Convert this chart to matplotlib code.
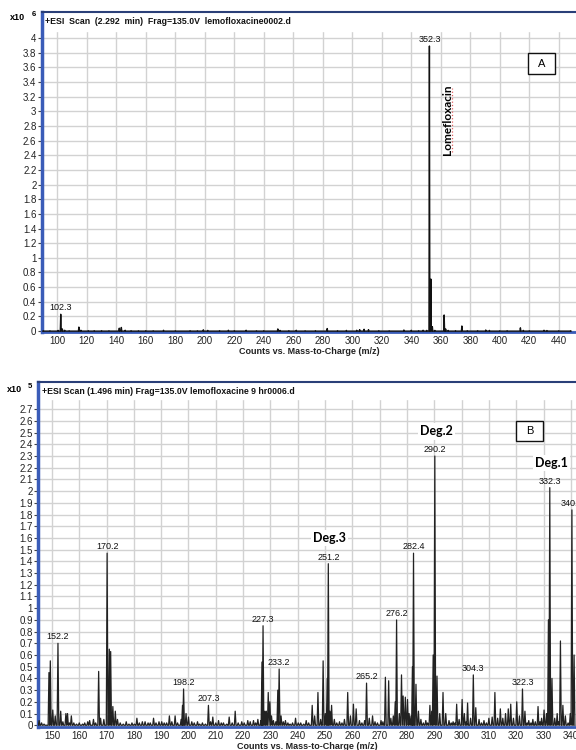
import matplotlib
matplotlib.use('Agg')
import matplotlib.pyplot as plt
from matplotlib.patches import Rectangle
import numpy as np

plt.rcParams['font.family'] = ['Liberation Sans', 'DejaVu Sans']

# Panel A: lomefloxacin standard, counts x10^6
a_mz = [90.5, 95.0, 100.5, 102.3, 103.4, 105.0, 108.0, 114.6, 116.0, 121.0, 125.0, 130.0,
        135.0, 142.0, 143.4, 146.0, 150.0, 155.0, 160.0, 165.0, 172.0, 180.0, 190.0, 195.0,
        199.0, 202.0, 210.0, 216.0, 220.0, 228.0, 235.0, 240.0, 249.5, 251.0, 257.0, 262.0,
        268.0, 275.0, 283.0, 290.0, 296.0, 303.0, 305.0, 308.0, 311.0, 318.0, 325.0, 335.0,
        340.0, 345.0, 348.0, 350.5, 352.3, 353.3, 354.3, 356.0, 362.3, 363.3, 365.0, 370.0,
        374.3, 378.0, 385.0, 390.5, 393.0, 400.0, 405.0, 414.0, 416.0, 420.0, 430.0, 432.0,
        440.0, 448.0]
a_int = [0.005, 0.005, 0.01, 0.23, 0.03, 0.012, 0.005, 0.055, 0.012, 0.006, 0.006, 0.006,
         0.005, 0.04, 0.05, 0.012, 0.006, 0.005, 0.006, 0.005, 0.012, 0.005, 0.006, 0.005,
         0.018, 0.01, 0.006, 0.012, 0.006, 0.012, 0.005, 0.006, 0.03, 0.01, 0.006, 0.012,
         0.005, 0.006, 0.035, 0.006, 0.01, 0.012, 0.02, 0.025, 0.02, 0.006, 0.005, 0.015,
         0.012, 0.006, 0.012, 0.01, 3.89, 0.71, 0.06, 0.01, 0.22, 0.03, 0.01, 0.006,
         0.07, 0.006, 0.006, 0.015, 0.01, 0.005, 0.006, 0.045, 0.01, 0.005, 0.012, 0.008,
         0.005, 0.005]
a_labels = ['102.3', '352.3']

# Panel B: after 9 hr, counts x10^5
b_mz = [145.3, 146.2, 147.1, 148.9, 149.4, 150.3, 151.2, 152.2, 153.2, 154.0, 155.1, 155.7,
        156.4, 157.1, 158.0, 159.0, 160.0, 161.2, 162.0, 163.1, 163.8, 165.2, 166.0, 167.1,
        167.8, 169.0, 170.2, 171.0, 171.5, 172.3, 173.2, 174.0, 175.0, 176.1, 177.2, 178.2,
        179.3, 180.2, 181.1, 182.0, 183.1, 184.1, 185.2, 186.0, 187.2, 188.1, 189.2, 190.2,
        191.1, 192.0, 193.0, 193.9, 195.1, 196.0, 197.3, 197.8, 198.2, 199.1, 200.0, 201.2,
        202.1, 203.3, 204.1, 205.1, 206.2, 207.3, 208.1, 208.9, 210.0, 211.0, 212.0, 212.8,
        214.0, 214.9, 216.0, 217.1, 218.2, 219.5, 220.4, 221.7, 222.6, 223.8, 224.6, 225.4,
        226.5, 226.9, 227.3, 228.0, 228.5, 229.2, 229.8, 230.4, 231.1, 232.0, 232.7, 233.2,
        233.9, 234.7, 235.5, 236.4, 237.2, 238.1, 239.2, 240.2, 241.1, 242.2, 243.1, 244.0,
        245.3, 246.2, 247.4, 248.4, 249.3, 250.1, 250.8, 251.2, 251.8, 252.4, 253.4, 254.3,
        255.3, 256.2, 257.1, 258.3, 259.3, 260.4, 261.4, 262.6, 263.5, 264.5, 265.2, 266.2,
        267.4, 268.3, 269.2, 270.5, 271.2, 272.1, 273.3, 274.1, 275.0, 275.7, 276.2, 277.2,
        278.0, 278.6, 279.4, 280.2, 280.8, 281.5, 282.0, 282.4, 283.3, 284.2, 285.1, 286.0,
        286.9, 287.6, 288.4, 289.1, 289.6, 290.2, 291.0, 292.0, 293.2, 294.2, 295.4, 296.2,
        296.9, 297.6, 298.2, 299.1, 300.2, 301.0, 301.7, 302.2, 303.3, 304.3, 305.2, 306.4,
        307.3, 308.2, 309.1, 310.0, 311.2, 312.2, 313.2, 314.2, 315.1, 316.1, 317.1, 318.0,
        319.0, 320.2, 321.2, 322.3, 323.2, 324.0, 324.6, 325.4, 326.1, 327.0, 328.0, 328.7,
        329.3, 330.2, 331.1, 331.8, 332.3, 333.1, 334.1, 335.0, 335.6, 336.2, 337.1, 338.0,
        339.0, 339.8, 340.4, 341.2]
b_int = [0.04, 0.02, 0.01, 0.45, 0.55, 0.13, 0.08, 0.70, 0.12, 0.03, 0.10, 0.10,
         0.02, 0.08, 0.02, 0.01, 0.02, 0.01, 0.02, 0.03, 0.04, 0.05, 0.02, 0.46,
         0.06, 0.05, 1.47, 0.65, 0.63, 0.16, 0.12, 0.05, 0.02, 0.01, 0.03, 0.01,
         0.02, 0.01, 0.06, 0.02, 0.03, 0.03, 0.02, 0.02, 0.06, 0.02, 0.03, 0.03,
         0.02, 0.02, 0.08, 0.03, 0.08, 0.02, 0.05, 0.17, 0.31, 0.10, 0.07, 0.03,
         0.02, 0.03, 0.01, 0.02, 0.01, 0.17, 0.03, 0.07, 0.02, 0.04, 0.02, 0.02,
         0.01, 0.07, 0.02, 0.12, 0.02, 0.03, 0.02, 0.04, 0.03, 0.04, 0.02, 0.05,
         0.04, 0.54, 0.85, 0.12, 0.12, 0.28, 0.20, 0.08, 0.04, 0.03, 0.30, 0.48,
         0.08, 0.03, 0.04, 0.02, 0.01, 0.02, 0.06, 0.02, 0.02, 0.01, 0.04, 0.02,
         0.17, 0.08, 0.28, 0.05, 0.55, 0.10, 0.40, 1.38, 0.12, 0.17, 0.05, 0.02,
         0.03, 0.02, 0.05, 0.28, 0.08, 0.18, 0.14, 0.04, 0.02, 0.04, 0.36, 0.06,
         0.08, 0.03, 0.02, 0.04, 0.03, 0.41, 0.38, 0.06, 0.08, 0.20, 0.90, 0.10,
         0.43, 0.25, 0.24, 0.22, 0.10, 0.08, 0.50, 1.47, 0.35, 0.12, 0.05, 0.02,
         0.04, 0.02, 0.17, 0.12, 0.60, 2.30, 0.42, 0.10, 0.28, 0.10, 0.04, 0.02,
         0.03, 0.02, 0.18, 0.05, 0.22, 0.10, 0.03, 0.19, 0.06, 0.43, 0.15, 0.05,
         0.02, 0.04, 0.02, 0.06, 0.07, 0.28, 0.06, 0.14, 0.06, 0.10, 0.14, 0.18,
         0.06, 0.20, 0.08, 0.31, 0.12, 0.02, 0.04, 0.02, 0.05, 0.03, 0.16, 0.03,
         0.06, 0.13, 0.10, 0.90, 2.03, 0.40, 0.06, 0.10, 0.03, 0.72, 0.17, 0.08,
         0.02, 0.10, 1.84, 0.60]
b_labels = ['152.2', '170.2', '198.2', '207.3', '227.3', '233.2', '251.2', '265.2',
            '276.2', '282.4', '290.2', '304.3', '322.3', '332.3', '340.4']

# degradation product tags (m/z, label)
deg_names = ['Deg.3', 'Deg.2', 'Deg.1']
deg_mz = [251.2, 290.2, 332.3]

SPINE_BLUE = '#3a5cb8'


def peak_profile(mz, inten, half_width):
    mz = np.asarray(mz)
    inten = np.asarray(inten)
    x = np.column_stack([mz - half_width, mz, mz + half_width]).ravel()
    y = np.column_stack([np.zeros_like(inten), inten, np.zeros_like(inten)]).ravel()
    return x, y


def style_axes(ax, xlim, ylim, xticks, yticks, band_bottom, title):
    ax.set_xlim(xlim)
    ax.set_ylim(ylim)
    ax.set_xticks(xticks)
    ax.set_yticks(yticks)
    ax.set_yticklabels([f'{v:g}' for v in yticks])
    ax.set_axisbelow(True)
    ax.grid(True, color='#d2d2d2', lw=1.0)
    # white header band where the scan title sits
    ax.axhspan(band_bottom, ylim[1], color='white', zorder=1)
    ax.spines['right'].set_visible(False)
    ax.spines['left'].set_color(SPINE_BLUE)
    ax.spines['left'].set_linewidth(2.5)
    ax.spines['bottom'].set_color(SPINE_BLUE)
    ax.spines['bottom'].set_linewidth(2.0)
    ax.spines['top'].set_color('#2a3f78')
    ax.spines['top'].set_linewidth(1.5)
    ax.tick_params(axis='y', length=3, width=0.8, color='#444444', labelsize=7,
                   pad=1, labelcolor='#222222')
    ax.tick_params(axis='x', length=0, labelsize=7, pad=3, labelcolor='#222222')
    ax.set_xlabel('Counts vs. Mass-to-Charge (m/z)', fontsize=6.5, fontweight='bold',
                  labelpad=0.5, color='#222222')
    ax.text(0.006, 0.972, title, transform=ax.transAxes, fontsize=6.3,
            fontweight='bold', va='center', ha='left', zorder=5, color='#111111')


def label_peaks(ax, mz, inten, labels):
    for lbl in labels:
        i = int(np.argmin(np.abs(np.asarray(mz) - float(lbl))))
        ax.annotate(lbl, (mz[i], inten[i]), xytext=(0, 1.5), textcoords='offset points',
                    ha='center', va='bottom', fontsize=6.5, color='#111111', zorder=6)


def boxed_letter(ax, x0, x1, y0, y1, letter):
    ax.add_patch(Rectangle((x0, y0), x1 - x0, y1 - y0, facecolor='white',
                           edgecolor='#111111', lw=1.0, zorder=5))
    ax.text((x0 + x1) / 2, (y0 + y1) / 2, letter, ha='center', va='center',
            fontsize=8, zorder=6)


fig = plt.figure(figsize=(5.76, 7.5), dpi=100)

# ---- panel A
axA = fig.add_axes([42 / 576, 1 - 332 / 750, 534 / 576, 319.7 / 750])
style_axes(axA, (89.6, 451.7), (-0.012, 4.35), np.arange(100, 441, 20),
           np.round(np.arange(0, 4.01, 0.2), 1), 4.1,
           '+ESI  Scan  (2.292  min)  Frag=135.0V  lemofloxacine0002.d')
x, y = peak_profile(a_mz, a_int, 0.3)
axA.plot(x, y, color='#111111', lw=1.0, zorder=3)
label_peaks(axA, a_mz, a_int, a_labels)
boxed_letter(axA, 419.1, 437.4, 3.51, 3.79, 'A')
axA.text(364.4, 2.885, 'Lomefloxacin', rotation=90, ha='center', va='center',
         fontsize=8.5, fontweight='bold', family=['Lato', 'DejaVu Sans'], zorder=6)
axA.plot([367.9, 367.9], [2.45, 3.32], color='#e06060', ls=':', lw=0.9, zorder=6)
fig.text(10 / 576, 1 - 17 / 750, 'x10', fontsize=6.5, va='center', fontweight='bold')
fig.text(32 / 576, 1 - 14 / 750, '6', fontsize=5.5, va='center', fontweight='bold')

# ---- panel B
axB = fig.add_axes([38.3 / 576, 1 - 727 / 750, 537.7 / 576, 344.7 / 750])
style_axes(axB, (145.0, 341.9), (-0.015, 2.93), np.arange(150, 341, 10),
           np.round(np.arange(0, 2.71, 0.1), 1), 2.79,
           '+ESI Scan (1.496 min) Frag=135.0V lemofloxacine 9 hr0006.d')
x, y = peak_profile(b_mz, b_int, 0.3)
axB.plot(x, y, color='#222222', lw=0.9, zorder=3)
label_peaks(axB, b_mz, b_int, b_labels)
boxed_letter(axB, 319.9, 329.8, 2.43, 2.60, 'B')
deg_offsets = [0.22, 0.21, 0.21]
for name, m, off in zip(deg_names, deg_mz, deg_offsets):
    i = int(np.argmin(np.abs(np.asarray(b_mz) - m)))
    axB.text(b_mz[i] + 0.5, b_int[i] + off, name, ha='center', va='center', fontsize=9,
             fontweight='bold', family=['Lato', 'DejaVu Sans'], zorder=6,
             bbox=dict(facecolor='white', edgecolor='none', pad=1.5))
fig.text(7 / 576, 1 - 390 / 750, 'x10', fontsize=6.5, va='center', fontweight='bold')
fig.text(28 / 576, 1 - 387 / 750, '5', fontsize=5.5, va='center', fontweight='bold')

fig.savefig('out.png', dpi=100)
